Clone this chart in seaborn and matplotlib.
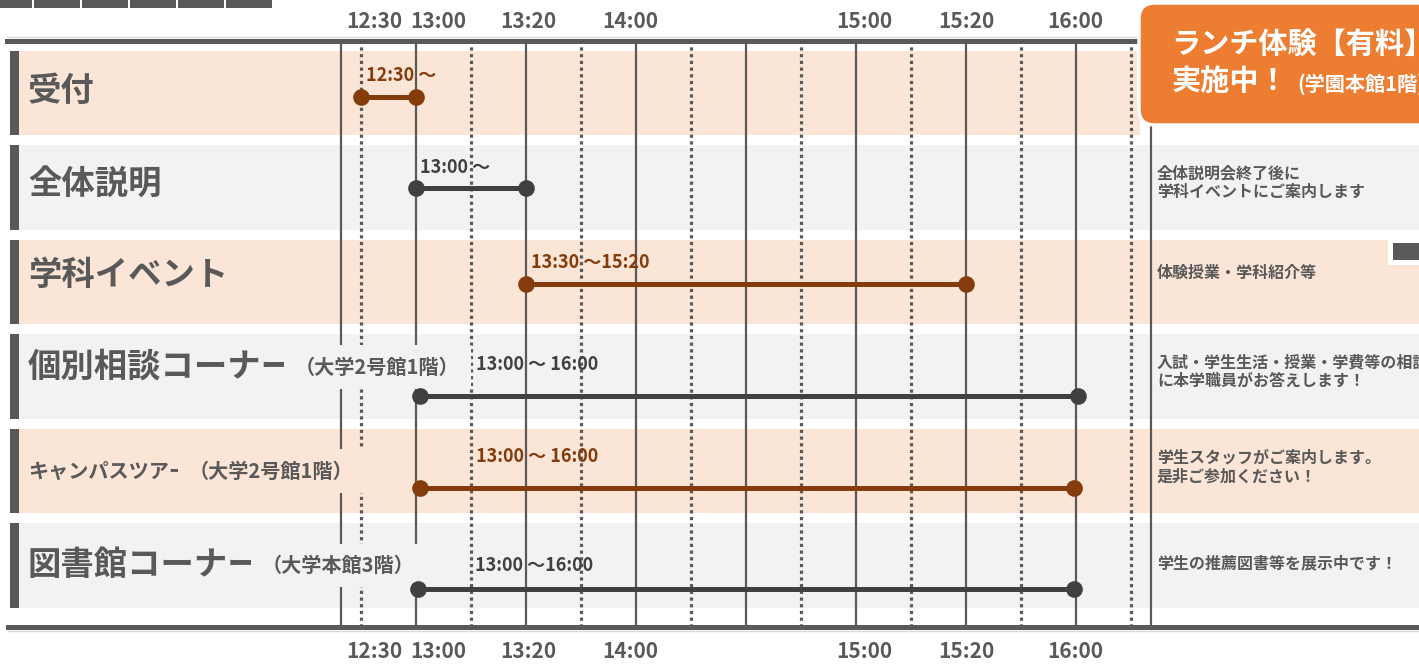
import matplotlib
matplotlib.use('Agg')
import matplotlib.pyplot as plt
from matplotlib.patches import Rectangle, FancyBboxPatch
from matplotlib.lines import Line2D
from matplotlib.transforms import IdentityTransform
import seaborn as sns
import pandas as pd


# time labels and where they sit on the slot axis (one slot = half a grid cell)
time_labels = ['12:30', '13:00', '13:20', '14:00', '15:00', '15:20', '16:00']
time_label_slots = [0.24, 1.4, 3.04, 4.9, 9.15, 11.0, 12.98]

# programme rows
row_titles = ['受付', '全体説明', '学科イベント', '個別相談コーナー', 'キャンパスツアー', '図書館コーナー']
row_places = ['', '', '', '（大学2号館1階）', '（大学2号館1階）', '（大学本館3階）']

# start / end of each programme bar, in slots
event_start = [0, 1, 3, 1.07, 1.07, 1.04]
event_end = [1, 3, 11, 13.04, 12.96, 12.96]
event_text = ['12:30 ～', '13:00 ～', '13:30 ～15:20', '13:00 ～ 16:00', '13:00 ～ 16:00', '13:00 ～16:00']

notes = ['',
         '全体説明会終了後に\n学科イベントにご案内します',
         '体験授業・学科紹介等',
         '入試・学生生活・授業・学費等の相談\nに本学職員がお答えします！',
         '学生スタッフがご案内します。\n是非ご参加ください！',
         '学生の推薦図書等を展示中です！']

banner_lines = ['ランチ体験【有料】', '実施中！', '(学園本館1階)']

DARK = '#595959'
BAR_GRAY = '#404040'
BROWN = '#843C0C'
PEACH = '#FBE5D6'
LIGHT = '#F2F2F2'
ORANGE = '#ED7D31'

sns.set_theme(style='white')
plt.rcParams['font.family'] = ['Noto Sans CJK JP', 'DejaVu Sans']
plt.rcParams['font.weight'] = 'bold'

W, H = 1419, 664
TOP, BOT = 40.5, 627
fig = plt.figure(figsize=(W / 100, H / 100), dpi=100)
ax = fig.add_axes([0, 1 - BOT / H, 1, (BOT - TOP) / H])


def sx(px):
    return (px - 361) / 55


def ry(px):
    return (px - 93) / 94.5


# layout tweaks (row units)
bar_dy = [0.04, 0.005, 0.02, 0.21, 0.18, 0.25]
text_slot = [0.09, 1.07, 3.09, 2.09, 2.09, 2.07]
text_dy = [-0.18, -0.21, -0.21, -0.13, -0.15, 0.005]
title_dy = [-0.02, -0.03, -0.07, -0.1, 0.0, 0.0]
note_dy = [0, -0.05, -0.1, -0.05, -0.04, -0.02]

band_colors = [PEACH, LIGHT] * 3
for i in range(len(row_titles)):
    xmax = 1140 / W if i == 0 else 1
    ax.axhspan(i - 0.445, i + 0.445, xmin=19 / W, xmax=xmax, color=band_colors[i], lw=0, zorder=0.5)
    ax.axhspan(i - 0.445, i + 0.445, xmin=10 / W, xmax=19 / W, color=DARK, lw=0, zorder=0.6)

# grid
for s in range(0, 15, 2):
    ax.axvline(s, color=DARK, lw=2.3, ls=(0, (1, 1.1)), zorder=1)
for s in range(1, 14, 2):
    ax.axvline(s, color=DARK, lw=1.6, zorder=1)
ax.axvline(sx(341), color=DARK, lw=1.6, zorder=1)
ax.axvline(sx(1151), color=DARK, lw=1.6, zorder=1)

# row titles
for i, (title, place) in enumerate(zip(row_titles, row_places)):
    fs = 14.5 if i == 4 else 24
    t = ax.text(sx(28), i + title_dy[i], title, fontsize=fs, color=DARK, va='center', ha='left',
                zorder=2, bbox=dict(boxstyle='square,pad=0.1', fc=band_colors[i], ec='none'))
    if place:
        ax.annotate(place, xy=(1, 0.5), xycoords=t, va='center', ha='left', fontsize=14.5,
                    color=DARK, zorder=2,
                    bbox=dict(boxstyle='square,pad=0.55', fc=band_colors[i], ec='none'))

# bars
recs = []
for i in range(len(row_titles)):
    recs.append(dict(event=row_titles[i], slot=event_start[i], ypos=i + bar_dy[i]))
    recs.append(dict(event=row_titles[i], slot=event_end[i], ypos=i + bar_dy[i]))
df = pd.DataFrame(recs)
palette = {row_titles[i]: (BROWN if i % 2 == 0 else BAR_GRAY) for i in range(len(row_titles))}
sns.lineplot(data=df, x='slot', y='ypos', hue='event', palette=palette, units='event',
             estimator=None, sort=False, marker='o', markersize=12, markeredgewidth=0,
             linewidth=3.6, legend=False, ax=ax, zorder=3)

for i, txt in enumerate(event_text):
    ax.text(text_slot[i], i + text_dy[i], txt, fontsize=13, va='center', ha='left',
            color=BROWN if i % 2 == 0 else BAR_GRAY, zorder=4)

for i, note in enumerate(notes):
    if note:
        ax.text(sx(1157), i + note_dy[i], note, fontsize=11.5, color=DARK, va='center',
                ha='left', linespacing=1.2, zorder=4)

ax.set_xlim(sx(0), sx(W))
ax.set_ylim(ry(BOT), ry(TOP))
ax.set_xlabel('')
ax.set_ylabel('')
ax.set_yticks([])
ax.set_xticks(time_label_slots, time_labels)
ax.tick_params(axis='x', length=0, top=True, labeltop=True, bottom=False, labelbottom=False,
               labelsize=15, labelcolor=DARK, pad=6)

# bottom time labels sit a bit further from the rule
sec = ax.secondary_xaxis('bottom')
sec.set_xticks(time_label_slots, time_labels)
sec.tick_params(axis='x', length=0, labelsize=15, labelcolor=DARK, pad=10)
sec.spines['bottom'].set_visible(False)

for side in ['left', 'right']:
    ax.spines[side].set_visible(False)
ax.spines['top'].set_color(DARK)
ax.spines['top'].set_linewidth(3.6)
ax.spines['top'].set_bounds(sx(7), sx(1140))
ax.spines['bottom'].set_color(DARK)
ax.spines['bottom'].set_linewidth(3.6)
ax.spines['bottom'].set_bounds(sx(8), sx(W))

# decorations in pixel space
px = IdentityTransform()
fig.add_artist(Line2D([7, 1140], [H - 36.5] * 2, transform=px, color='#D9D9D9', lw=1))
fig.add_artist(Line2D([8, W], [H - 631] * 2, transform=px, color='#D9D9D9', lw=1))
for x0, x1 in [(0, 32), (34, 80), (82, 128), (130, 176), (178, 224), (226, 272)]:
    fig.add_artist(Rectangle((x0, H - 8), x1 - x0, 8, transform=px, fc=DARK, ec='none'))
fig.add_artist(Rectangle((1388, H - 265), 31, 27, transform=px, fc='white', ec='none', zorder=5))
fig.add_artist(Rectangle((1393, H - 260), 26, 17, transform=px, fc=DARK, ec='none', zorder=6))

box = FancyBboxPatch((1139, H - 125), 400, 122, boxstyle='round,pad=0,rounding_size=16',
                     transform=px, fc=ORANGE, ec='white', lw=2.5, zorder=10)
fig.add_artist(box)
fig.text(1171 / W, 1 - 44 / H, banner_lines[0], color='white', fontsize=21, va='center', zorder=11)
fig.text(1172 / W, 1 - 81 / H, banner_lines[1], color='white', fontsize=21, va='center', zorder=11)
fig.text(1297 / W, 1 - 84 / H, banner_lines[2], color='white', fontsize=14.5, va='center', zorder=11)

fig.savefig('out.png', dpi=100)
